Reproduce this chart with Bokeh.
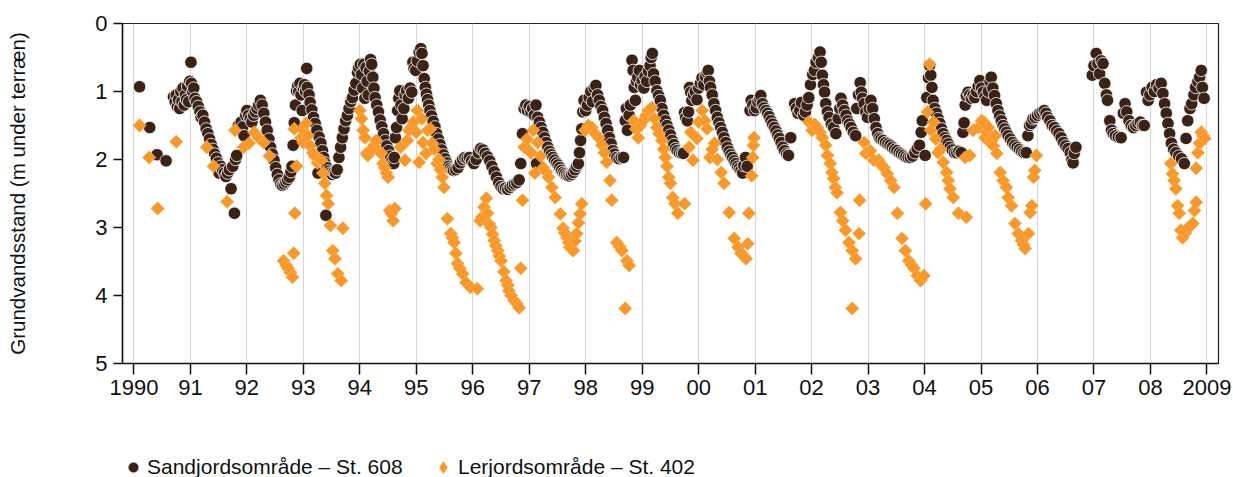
import math
from bokeh.plotting import figure
from bokeh.layouts import column
from bokeh.models import (ColumnDataSource, FixedTicker, Legend, LegendItem, Range1d)
from bokeh.embed import file_html
from bokeh.resources import INLINE

# ---- data: (decimal year, groundwater depth in m below terrain) ----
sand_obs = [
    (1990.10, 0.93), (1990.28, 1.53), (1990.41, 1.93), (1990.57, 2.02),
    (1990.70, 1.08), (1990.73, 1.15), (1990.75, 1.05), (1990.77, 1.22), (1990.79, 1.12), (1990.81, 1.25),
    (1990.83, 1.00), (1990.85, 1.15), (1990.87, 0.95), (1990.89, 1.20), (1990.91, 1.05), (1990.93, 1.12),
    (1990.95, 0.92), (1990.97, 1.15), (1990.99, 0.85), (1991.01, 0.57), (1991.02, 0.88), (1991.04, 1.00),
    (1991.06, 0.95), (1991.08, 1.10), (1991.11, 1.15), (1991.14, 1.22), (1991.17, 1.30), (1991.19, 1.38),
    (1991.22, 1.35), (1991.25, 1.45), (1991.28, 1.55), (1991.31, 1.62), (1991.34, 1.70), (1991.37, 1.78),
    (1991.40, 1.85), (1991.43, 1.92), (1991.46, 1.98), (1991.49, 2.05), (1991.51, 2.20), (1991.54, 2.10),
    (1991.57, 2.15), (1991.60, 2.20), (1991.63, 2.25), (1991.66, 2.20), (1991.69, 2.15), (1991.72, 2.43),
    (1991.75, 2.10), (1991.78, 2.79), (1991.80, 2.00), (1991.82, 1.94),
    (1991.85, 1.50), (1991.87, 1.55), (1991.90, 1.45), (1991.93, 1.52), (1991.95, 1.65), (1991.98, 1.35),
    (1992.00, 1.28), (1992.03, 1.35), (1992.06, 1.40), (1992.09, 1.45), (1992.12, 1.35), (1992.15, 1.30),
    (1992.18, 1.25), (1992.21, 1.20), (1992.24, 1.13), (1992.27, 1.20), (1992.30, 1.32), (1992.33, 1.45),
    (1992.36, 1.57), (1992.39, 1.70), (1992.42, 1.82), (1992.45, 1.92), (1992.48, 2.01), (1992.51, 2.12),
    (1992.54, 2.22), (1992.57, 2.30), (1992.60, 2.36), (1992.63, 2.38), (1992.66, 2.36), (1992.69, 2.33),
    (1992.72, 2.30), (1992.75, 2.26), (1992.78, 2.18), (1992.80, 2.10), (1992.82, 1.79), (1992.84, 1.46),
    (1992.86, 1.20), (1992.88, 0.99), (1992.90, 0.92), (1992.92, 1.00), (1992.94, 0.88), (1992.96, 1.05),
    (1992.98, 1.28), (1993.00, 0.95), (1993.02, 0.90), (1993.04, 1.00), (1993.06, 0.66), (1993.07, 0.94),
    (1993.10, 1.05), (1993.12, 1.16), (1993.15, 1.27), (1993.18, 1.38), (1993.21, 1.47), (1993.24, 1.57),
    (1993.26, 2.20), (1993.28, 1.67), (1993.31, 1.76), (1993.34, 1.87), (1993.36, 1.97), (1993.38, 2.05),
    (1993.40, 2.82), (1993.42, 2.12), (1993.45, 2.17), (1993.48, 2.20), (1993.51, 2.22), (1993.54, 2.19),
    (1993.57, 2.20), (1993.60, 2.15), (1993.63, 1.97), (1993.66, 1.82), (1993.69, 1.68), (1993.72, 1.55),
    (1993.75, 1.43), (1993.78, 1.35), (1993.81, 1.25), (1993.84, 1.15), (1993.87, 1.09), (1993.90, 0.98),
    (1993.93, 0.88), (1993.96, 0.72), (1993.98, 0.65), (1994.01, 0.60), (1994.03, 0.75), (1994.05, 0.95),
    (1994.07, 0.60), (1994.09, 1.10), (1994.11, 0.65), (1994.13, 0.85), (1994.15, 1.05), (1994.17, 0.70),
    (1994.19, 0.53), (1994.21, 0.60), (1994.23, 0.79), (1994.25, 0.95), (1994.27, 1.09), (1994.30, 1.20),
    (1994.33, 1.30), (1994.36, 1.42), (1994.39, 1.52), (1994.42, 1.62), (1994.45, 1.72), (1994.48, 1.80),
    (1994.51, 1.87), (1994.54, 1.95), (1994.57, 2.02), (1994.60, 2.06), (1994.61, 1.97), (1994.63, 1.68),
    (1994.65, 1.53), (1994.67, 1.28), (1994.69, 1.10), (1994.71, 0.99), (1994.73, 1.20), (1994.75, 1.40),
    (1994.78, 1.25), (1994.80, 1.05), (1994.83, 0.99), (1994.86, 1.10), (1994.89, 0.95), (1994.92, 1.01),
    (1994.94, 0.57), (1994.96, 0.66), (1994.99, 0.69), (1995.02, 0.55), (1995.05, 0.42), (1995.08, 0.37),
    (1995.10, 0.44), (1995.12, 0.62), (1995.14, 0.81), (1995.16, 0.94), (1995.18, 1.04), (1995.20, 1.12),
    (1995.22, 1.20), (1995.24, 1.28), (1995.27, 1.36), (1995.30, 1.44), (1995.33, 1.52), (1995.36, 1.62),
    (1995.39, 1.70), (1995.42, 1.78), (1995.45, 1.86), (1995.48, 1.93), (1995.51, 1.99), (1995.54, 2.05),
    (1995.57, 2.10), (1995.60, 2.13), (1995.63, 2.15), (1995.66, 2.16), (1995.70, 2.15), (1995.74, 2.12),
    (1995.78, 2.05), (1995.82, 2.00), (1995.86, 1.97), (1995.90, 1.98), (1995.94, 1.97), (1995.98, 2.02),
    (1996.02, 2.06), (1996.06, 2.00), (1996.10, 1.90), (1996.14, 1.84), (1996.18, 1.86), (1996.22, 1.91),
    (1996.26, 1.96), (1996.30, 2.02), (1996.34, 2.10), (1996.38, 2.18), (1996.42, 2.26), (1996.46, 2.34),
    (1996.50, 2.40), (1996.54, 2.43), (1996.58, 2.42), (1996.62, 2.44), (1996.66, 2.41), (1996.70, 2.38),
    (1996.74, 2.36), (1996.78, 2.34), (1996.82, 2.30), (1996.85, 2.06), (1996.88, 1.62), (1996.91, 1.25),
    (1996.94, 1.20), (1996.97, 1.28), (1997.00, 1.22), (1997.03, 1.30), (1997.06, 1.25), (1997.09, 1.35),
    (1997.12, 1.20), (1997.13, 2.06), (1997.15, 1.38), (1997.18, 1.45), (1997.21, 1.53), (1997.24, 1.60),
    (1997.27, 1.68), (1997.30, 1.75), (1997.33, 1.82), (1997.36, 1.88), (1997.39, 1.93), (1997.42, 1.97),
    (1997.45, 2.01), (1997.48, 2.05), (1997.51, 2.08), (1997.54, 2.12), (1997.57, 2.16), (1997.60, 2.19),
    (1997.63, 2.21), (1997.66, 2.23), (1997.69, 2.24), (1997.72, 2.24), (1997.75, 2.22), (1997.78, 2.19),
    (1997.81, 2.15), (1997.84, 2.10), (1997.87, 2.06), (1997.89, 1.90), (1997.91, 1.72), (1997.93, 1.55),
    (1997.95, 1.30), (1997.97, 1.13), (1998.00, 1.28), (1998.03, 1.20), (1998.06, 1.09), (1998.09, 1.00),
    (1998.12, 1.15), (1998.15, 0.95), (1998.18, 0.91), (1998.21, 1.05), (1998.24, 1.13), (1998.27, 1.22),
    (1998.30, 1.28), (1998.33, 1.38), (1998.36, 1.47), (1998.39, 1.57), (1998.42, 1.68), (1998.45, 1.77),
    (1998.48, 1.87), (1998.51, 1.92), (1998.55, 1.97), (1998.59, 1.99), (1998.63, 1.97), (1998.67, 1.97),
    (1998.70, 1.43), (1998.72, 1.25), (1998.74, 1.57), (1998.77, 1.35), (1998.79, 1.20), (1998.82, 0.54),
    (1998.84, 0.69), (1998.86, 0.94), (1998.88, 1.13), (1998.90, 0.85), (1998.92, 0.79), (1998.95, 0.69),
    (1998.97, 0.90), (1999.00, 0.84), (1999.03, 0.95), (1999.05, 0.78), (1999.08, 0.85), (1999.11, 0.70),
    (1999.14, 0.62), (1999.16, 0.50), (1999.18, 0.44), (1999.20, 0.74), (1999.23, 0.85), (1999.26, 0.99),
    (1999.29, 1.06), (1999.32, 1.13), (1999.35, 1.25), (1999.38, 1.35), (1999.41, 1.43), (1999.44, 1.50),
    (1999.47, 1.57), (1999.50, 1.64), (1999.53, 1.72), (1999.56, 1.78), (1999.59, 1.84), (1999.62, 1.87),
    (1999.66, 1.90), (1999.70, 1.91), (1999.73, 1.91), (1999.75, 1.31), (1999.77, 1.38), (1999.80, 1.43),
    (1999.82, 1.30), (1999.84, 0.94), (1999.86, 1.01), (1999.88, 1.13), (1999.91, 1.05), (1999.94, 1.00),
    (1999.97, 1.12), (2000.00, 0.95), (2000.03, 0.88), (2000.06, 0.80), (2000.09, 0.90), (2000.12, 0.78),
    (2000.15, 0.72), (2000.17, 0.69), (2000.19, 0.85), (2000.21, 0.94), (2000.24, 1.05), (2000.27, 1.18),
    (2000.30, 1.28), (2000.33, 1.38), (2000.36, 1.46), (2000.39, 1.53), (2000.42, 1.60), (2000.45, 1.68),
    (2000.48, 1.75), (2000.51, 1.82), (2000.54, 1.88), (2000.57, 1.93), (2000.60, 1.97), (2000.63, 2.02),
    (2000.66, 2.06), (2000.69, 2.10), (2000.72, 2.13), (2000.75, 2.16), (2000.78, 2.20), (2000.80, 2.09),
    (2000.83, 1.97), (2000.86, 2.10), (2000.91, 1.28), (2000.93, 1.13), (2000.96, 1.20), (2000.99, 1.28),
    (2001.02, 1.24), (2001.05, 1.15), (2001.08, 1.10), (2001.10, 1.06), (2001.13, 1.18), (2001.16, 1.24),
    (2001.19, 1.28), (2001.22, 1.32), (2001.25, 1.37), (2001.28, 1.43), (2001.31, 1.48), (2001.34, 1.53),
    (2001.37, 1.58), (2001.40, 1.64), (2001.43, 1.69), (2001.46, 1.75), (2001.49, 1.82), (2001.52, 1.87),
    (2001.56, 1.92), (2001.59, 1.94), (2001.63, 1.68), (2001.70, 1.18), (2001.73, 1.25), (2001.76, 1.32),
    (2001.79, 1.28), (2001.82, 1.16), (2001.86, 1.35), (2001.89, 1.30), (2001.92, 1.20), (2001.95, 1.09),
    (2001.98, 0.90), (2002.02, 0.75), (2002.05, 0.69), (2002.08, 0.57), (2002.12, 0.50), (2002.15, 0.42),
    (2002.17, 0.57), (2002.19, 0.76), (2002.21, 0.90), (2002.23, 1.01), (2002.25, 1.18), (2002.28, 1.30),
    (2002.31, 1.38), (2002.35, 1.48), (2002.39, 1.53), (2002.43, 1.62), (2002.47, 1.40), (2002.50, 1.25),
    (2002.52, 1.10), (2002.55, 1.20), (2002.58, 1.28), (2002.61, 1.35), (2002.64, 1.43), (2002.67, 1.48),
    (2002.70, 1.53), (2002.74, 1.60), (2002.78, 1.65), (2002.80, 1.25), (2002.83, 1.05), (2002.86, 0.87),
    (2002.88, 1.01), (2002.90, 1.10), (2002.93, 1.18), (2002.96, 1.30), (2002.99, 1.38), (2003.02, 1.25),
    (2003.05, 1.13), (2003.08, 1.25), (2003.11, 1.40), (2003.14, 1.53), (2003.17, 1.62), (2003.20, 1.68),
    (2003.23, 1.70), (2003.27, 1.72), (2003.31, 1.75), (2003.35, 1.77), (2003.39, 1.79), (2003.43, 1.82),
    (2003.47, 1.85), (2003.51, 1.87), (2003.55, 1.90), (2003.59, 1.92), (2003.63, 1.94), (2003.67, 1.96),
    (2003.71, 1.97), (2003.75, 1.97), (2003.79, 1.95), (2003.83, 1.90), (2003.87, 1.84), (2003.91, 1.79),
    (2003.94, 1.60), (2003.96, 1.43), (2004.01, 1.94), (2004.04, 1.09), (2004.07, 0.80), (2004.09, 0.62),
    (2004.11, 0.76), (2004.13, 0.94), (2004.15, 1.13), (2004.18, 1.25), (2004.21, 1.32), (2004.24, 1.40),
    (2004.27, 1.47), (2004.30, 1.55), (2004.33, 1.62), (2004.36, 1.68), (2004.39, 1.72), (2004.42, 1.77),
    (2004.45, 1.82), (2004.49, 1.86), (2004.53, 1.90), (2004.57, 1.90), (2004.61, 1.88), (2004.65, 1.90),
    (2004.68, 1.60), (2004.70, 1.46), (2004.72, 1.20), (2004.74, 1.06), (2004.77, 1.01), (2004.80, 1.05),
    (2004.83, 1.10), (2004.86, 1.05), (2004.89, 1.09), (2004.92, 1.00), (2004.95, 0.92), (2004.98, 0.84),
    (2005.01, 0.95), (2005.04, 1.01), (2005.07, 1.08), (2005.10, 1.13), (2005.13, 1.00), (2005.16, 0.85),
    (2005.18, 0.79), (2005.21, 0.95), (2005.24, 1.06), (2005.27, 1.18), (2005.30, 1.28), (2005.33, 1.36),
    (2005.36, 1.43), (2005.39, 1.50), (2005.42, 1.55), (2005.45, 1.60), (2005.48, 1.65), (2005.52, 1.70),
    (2005.56, 1.75), (2005.60, 1.79), (2005.64, 1.82), (2005.68, 1.85), (2005.72, 1.88), (2005.76, 1.90),
    (2005.80, 1.90), (2005.83, 1.65), (2005.86, 1.50), (2005.89, 1.47), (2005.92, 1.40), (2005.96, 1.38),
    (2006.00, 1.35), (2006.04, 1.32), (2006.08, 1.30), (2006.12, 1.28), (2006.15, 1.32), (2006.18, 1.38),
    (2006.22, 1.43), (2006.26, 1.50), (2006.30, 1.53), (2006.34, 1.58), (2006.38, 1.62), (2006.42, 1.68),
    (2006.46, 1.75), (2006.50, 1.80), (2006.54, 1.84), (2006.58, 1.90), (2006.61, 2.00), (2006.63, 2.05),
    (2006.65, 1.91), (2006.68, 1.82),
    (2006.97, 0.76), (2007.00, 0.62), (2007.04, 0.44), (2007.07, 0.59), (2007.10, 0.74), (2007.13, 0.55),
    (2007.16, 0.59), (2007.19, 0.88), (2007.22, 1.05), (2007.24, 1.13), (2007.28, 1.43), (2007.31, 1.57),
    (2007.34, 1.62), (2007.38, 1.65), (2007.43, 1.67), (2007.48, 1.68), (2007.52, 1.32), (2007.55, 1.18),
    (2007.58, 1.30), (2007.62, 1.43), (2007.66, 1.50), (2007.70, 1.53), (2007.74, 1.50), (2007.78, 1.47),
    (2007.82, 1.45), (2007.86, 1.50), (2007.89, 1.50), (2007.93, 1.01), (2007.96, 1.13), (2007.99, 1.05),
    (2008.03, 0.94), (2008.07, 1.00), (2008.11, 0.90), (2008.15, 0.95), (2008.19, 0.88), (2008.22, 1.03),
    (2008.25, 1.18), (2008.28, 1.32), (2008.31, 1.47), (2008.34, 1.62), (2008.37, 1.76), (2008.41, 1.85),
    (2008.45, 1.90), (2008.50, 1.95), (2008.55, 1.99), (2008.60, 2.06), (2008.63, 1.69), (2008.66, 1.43),
    (2008.70, 1.25), (2008.73, 1.18), (2008.77, 1.05), (2008.80, 0.94), (2008.84, 0.85), (2008.87, 0.79),
    (2008.90, 0.69), (2008.92, 0.94), (2008.95, 1.10),
]

clay_obs = [
    (1990.10, 1.50), (1990.27, 1.97), (1990.42, 2.72), (1990.75, 1.74),
    (1991.29, 1.82), (1991.41, 2.10), (1991.65, 2.62), (1991.79, 1.57), (1991.94, 1.82), (1992.04, 1.76),
    (1992.13, 1.60), (1992.22, 1.69), (1992.30, 1.75), (1992.40, 1.95),
    (1992.65, 3.49), (1992.70, 3.56), (1992.73, 3.60), (1992.77, 3.66), (1992.81, 3.73), (1992.83, 3.38),
    (1992.84, 1.55), (1992.85, 2.79), (1992.88, 2.10), (1992.96, 1.68), (1992.98, 1.55), (1993.00, 1.75),
    (1993.05, 1.47), (1993.08, 1.65), (1993.12, 1.80), (1993.17, 1.90), (1993.20, 1.95), (1993.25, 2.05),
    (1993.28, 2.00), (1993.32, 2.01), (1993.35, 2.20), (1993.38, 2.35), (1993.41, 2.53), (1993.44, 2.65),
    (1993.48, 2.97), (1993.52, 3.34), (1993.56, 3.46), (1993.61, 3.68), (1993.67, 3.78), (1993.70, 3.01),
    (1994.00, 1.28), (1994.03, 1.40), (1994.06, 1.57), (1994.09, 1.68), (1994.12, 1.91), (1994.14, 1.94),
    (1994.20, 1.87), (1994.25, 1.80), (1994.29, 1.72), (1994.33, 1.87), (1994.38, 1.91), (1994.41, 2.06),
    (1994.44, 2.12), (1994.47, 2.20), (1994.50, 2.26), (1994.53, 2.75), (1994.56, 2.80), (1994.59, 2.90),
    (1994.62, 2.72), (1994.72, 1.82), (1994.80, 2.01), (1994.84, 1.72), (1994.87, 1.57), (1994.91, 1.53),
    (1994.95, 1.45), (1995.00, 1.60), (1995.02, 1.28), (1995.05, 2.04), (1995.10, 1.40), (1995.12, 1.75),
    (1995.17, 1.91), (1995.20, 1.57), (1995.25, 1.55), (1995.28, 1.76), (1995.32, 1.85), (1995.37, 2.06),
    (1995.40, 2.00), (1995.43, 2.15), (1995.46, 2.26), (1995.49, 2.41), (1995.55, 2.87), (1995.61, 3.09),
    (1995.64, 3.15), (1995.67, 3.22), (1995.70, 3.38), (1995.73, 3.53), (1995.77, 3.60), (1995.82, 3.68),
    (1995.88, 3.81), (1995.96, 3.88), (1996.08, 3.90),
    (1996.13, 2.90), (1996.16, 2.85), (1996.20, 2.70), (1996.24, 2.57), (1996.26, 2.79), (1996.29, 2.95),
    (1996.32, 3.00), (1996.35, 3.10), (1996.38, 3.19), (1996.41, 3.27), (1996.44, 3.34), (1996.47, 3.42),
    (1996.50, 3.49), (1996.55, 3.65), (1996.59, 3.78), (1996.62, 3.85), (1996.64, 3.93), (1996.68, 4.00),
    (1996.73, 4.07), (1996.78, 4.12), (1996.82, 4.18), (1996.85, 3.60), (1996.88, 2.60),
    (1996.91, 1.82), (1996.96, 1.70), (1997.00, 1.87), (1997.03, 1.90), (1997.07, 1.57), (1997.10, 2.20),
    (1997.15, 1.75), (1997.20, 1.95), (1997.25, 2.12), (1997.30, 2.18), (1997.34, 2.26), (1997.40, 2.41),
    (1997.46, 2.56), (1997.55, 2.80), (1997.60, 3.01), (1997.63, 3.08), (1997.67, 3.15), (1997.70, 3.22),
    (1997.72, 3.29), (1997.75, 3.32), (1997.78, 3.34), (1997.81, 3.20), (1997.84, 3.09), (1997.87, 2.93),
    (1997.90, 2.80), (1997.93, 2.65),
    (1997.99, 1.57), (1998.05, 1.50), (1998.11, 1.53), (1998.17, 1.62), (1998.23, 1.68), (1998.29, 1.79),
    (1998.33, 1.90), (1998.37, 2.04), (1998.43, 2.31), (1998.46, 2.60), (1998.55, 3.22), (1998.60, 3.28),
    (1998.64, 3.34), (1998.70, 4.19), (1998.73, 3.49), (1998.77, 3.56),
    (1998.85, 1.43), (1998.89, 1.55), (1998.93, 1.68), (1998.97, 1.50), (1999.02, 1.43), (1999.07, 1.35),
    (1999.11, 1.28), (1999.17, 1.24), (1999.22, 1.40), (1999.26, 1.53), (1999.30, 1.62), (1999.35, 1.72),
    (1999.38, 1.85), (1999.41, 1.97), (1999.44, 2.10), (1999.47, 2.26), (1999.50, 2.35), (1999.54, 2.56),
    (1999.58, 2.65), (1999.63, 2.79), (1999.75, 2.65), (1999.83, 1.82), (1999.86, 1.60), (1999.90, 2.01),
    (1999.97, 1.69), (2000.00, 1.45), (2000.06, 1.28), (2000.11, 1.43), (2000.15, 1.55), (2000.20, 1.97),
    (2000.24, 1.85), (2000.28, 1.76), (2000.33, 2.00), (2000.40, 2.19), (2000.45, 2.35), (2000.54, 2.78),
    (2000.63, 3.16), (2000.70, 3.29), (2000.75, 3.38), (2000.80, 3.42), (2000.84, 3.46), (2000.87, 3.24),
    (2000.89, 2.79), (2000.94, 2.24), (2000.96, 1.97), (2000.97, 1.79), (2000.98, 1.68),
    (2001.95, 1.45), (2002.01, 1.57), (2002.05, 1.48), (2002.10, 1.53), (2002.15, 1.60), (2002.19, 1.68),
    (2002.25, 1.79), (2002.28, 1.94), (2002.33, 2.06), (2002.36, 2.19), (2002.39, 2.28), (2002.42, 2.41),
    (2002.45, 2.49), (2002.51, 2.78), (2002.55, 2.90), (2002.60, 3.04), (2002.66, 3.22), (2002.72, 3.34),
    (2002.72, 4.19), (2002.78, 3.46), (2002.84, 3.09), (2002.85, 2.60),
    (2002.93, 1.75), (2002.96, 1.91), (2003.04, 1.87), (2003.10, 2.01), (2003.19, 2.01), (2003.24, 2.08),
    (2003.28, 2.12), (2003.34, 2.21), (2003.40, 2.31), (2003.46, 2.41), (2003.52, 2.79), (2003.60, 3.16),
    (2003.66, 3.34), (2003.72, 3.49), (2003.77, 3.55), (2003.81, 3.60), (2003.87, 3.71), (2003.93, 3.78),
    (2003.99, 3.71), (2004.02, 2.65),
    (2004.05, 1.30), (2004.09, 0.60), (2004.11, 1.57), (2004.16, 1.45), (2004.20, 1.70), (2004.24, 1.90),
    (2004.28, 1.85), (2004.33, 2.04), (2004.39, 2.19), (2004.42, 2.31), (2004.45, 2.43), (2004.51, 2.56),
    (2004.60, 2.79), (2004.72, 1.97), (2004.74, 2.85), (2004.80, 1.94),
    (2004.86, 1.57), (2004.95, 1.53), (2005.01, 1.43), (2005.05, 1.45), (2005.07, 1.68), (2005.10, 1.60),
    (2005.13, 1.53), (2005.16, 1.75), (2005.19, 1.72), (2005.22, 1.80), (2005.25, 1.65), (2005.28, 1.91),
    (2005.34, 2.19), (2005.39, 2.31), (2005.45, 2.41), (2005.48, 2.56), (2005.54, 2.68), (2005.60, 2.94),
    (2005.66, 3.09), (2005.72, 3.19), (2005.75, 3.25), (2005.78, 3.31), (2005.84, 3.09), (2005.87, 2.78),
    (2005.90, 2.68), (2005.93, 2.26), (2005.95, 2.16), (2005.98, 1.94),
    (2008.36, 2.06), (2008.39, 2.21), (2008.42, 2.31), (2008.45, 2.43), (2008.48, 2.68), (2008.51, 2.79),
    (2008.54, 3.04), (2008.57, 3.15), (2008.62, 3.08), (2008.66, 3.01), (2008.70, 2.98), (2008.75, 2.94),
    (2008.78, 2.75), (2008.81, 2.63), (2008.81, 2.13), (2008.84, 1.90), (2008.87, 1.76), (2008.90, 1.60),
    (2008.93, 1.65), (2008.96, 1.69),
]

tick_years = list(range(1990, 2010))
tick_labels = ["1990", "91", "92", "93", "94", "95", "96", "97", "98", "99",
               "00", "01", "02", "03", "04", "05", "06", "07", "08", "2009"]
depth_ticks = [0, 1, 2, 3, 4, 5]

sand_label = "Sandjordsområde – St. 608"
clay_label = "Lerjordsområde – St. 402"
y_title = "Grundvandsstand (m under terræn)"

FONT = "Liberation Sans"
SAND_COLOR = "#3a2217"
CLAY_COLOR = "#f7982a"
TXT = "#111111"

sand_src = ColumnDataSource(dict(x=[a for a, _ in sand_obs], y=[b for _, b in sand_obs]))
clay_src = ColumnDataSource(dict(x=[a for a, _ in clay_obs], y=[b for _, b in clay_obs]))

sand_style = dict(marker="circle", size=12.5, fill_color=SAND_COLOR, line_color="white", line_width=0.8)
clay_style = dict(marker="square", angle=math.pi / 4, size=9.5, fill_color=CLAY_COLOR,
                  line_color="#fbb45e", line_width=0.6)

# ---------------- main chart ----------------
p = figure(width=1233, height=410, output_backend="svg", toolbar_location=None,
           x_range=Range1d(1989.798, 2009.205), y_range=Range1d(5, 0),
           min_border_left=122, min_border_right=15, min_border_top=23, min_border_bottom=47)
p.background_fill_color = "white"
p.border_fill_color = "white"
p.outline_line_color = "#222222"
p.outline_line_width = 1.2

p.xgrid.grid_line_color = "#d6d6d6"
p.xgrid.grid_line_width = 1
p.ygrid.grid_line_color = None

xa = p.xaxis[0]
xa.ticker = FixedTicker(ticks=tick_years)
xa.major_label_overrides = {y: l for y, l in zip(tick_years, tick_labels)}
xa.major_tick_out = 11
xa.major_tick_in = 0
xa.minor_tick_line_color = None
xa.major_tick_line_width = 1.5
xa.axis_line_width = 1.5
xa.axis_line_color = TXT
xa.major_tick_line_color = TXT
xa.major_label_text_font = FONT
xa.major_label_text_font_size = "22px"
xa.major_label_text_color = TXT
xa.major_label_standoff = 5

ya = p.yaxis[0]
ya.ticker = FixedTicker(ticks=depth_ticks)
ya.major_tick_out = 9
ya.major_tick_in = 0
ya.minor_tick_line_color = None
ya.major_tick_line_width = 1.5
ya.axis_line_width = 1.5
ya.axis_line_color = TXT
ya.major_tick_line_color = TXT
ya.major_label_text_font = FONT
ya.major_label_text_font_size = "22px"
ya.major_label_text_color = TXT
ya.major_label_standoff = 6
ya.axis_label = y_title
ya.axis_label_text_font = FONT
ya.axis_label_text_font_size = "20.5px"
ya.axis_label_text_font_style = "normal"
ya.axis_label_text_color = TXT
ya.axis_label_standoff = 63

p.scatter("x", "y", source=sand_src, **sand_style)
p.scatter("x", "y", source=clay_src, **clay_style)

# ---------------- legend strip ----------------
# same series, on ranges where they fall out of view: only the legend entries show
lg = figure(width=1233, height=67, output_backend="svg", toolbar_location=None,
            x_range=Range1d(0, 1), y_range=Range1d(0, 1),
            min_border=0, min_border_left=0, min_border_right=0, min_border_top=0, min_border_bottom=0)
lg.axis.visible = False
lg.grid.visible = False
lg.outline_line_color = None
lg.background_fill_color = "white"
lg.border_fill_color = "white"
l_sand = lg.scatter("x", "y", source=sand_src, marker="circle", fill_color=SAND_COLOR,
                    line_color=SAND_COLOR, line_width=0.5)
l_clay = lg.scatter("x", "y", source=clay_src, marker="diamond", fill_color=CLAY_COLOR,
                    line_color=CLAY_COLOR, line_width=0.5)

common = dict(orientation="horizontal", label_text_font=FONT, label_text_font_size="21px",
              label_text_color=TXT, padding=0, margin=0, border_line_color=None,
              background_fill_alpha=0, spacing=0)
legend_sand = Legend(items=[LegendItem(label=sand_label, renderers=[l_sand])],
                     location=(-1, -1.5), glyph_width=24, glyph_height=24, label_height=24,
                     label_standoff=2, **common)
legend_clay = Legend(items=[LegendItem(label=clay_label, renderers=[l_clay])],
                     location=(306, -5), glyph_width=30, glyph_height=30, label_height=30,
                     label_standoff=0, **common)
lg.add_layout(legend_sand)
lg.add_layout(legend_clay)

layout = column(p, lg, spacing=0)
open("out.html", "w").write(file_html(layout, INLINE))
